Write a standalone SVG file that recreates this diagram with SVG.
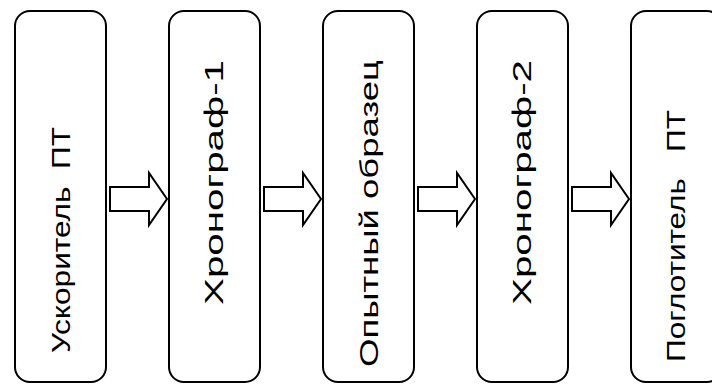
<svg xmlns="http://www.w3.org/2000/svg" width="712" height="386" viewBox="0 0 712 386">
  <defs>
    <style>
      .box { fill: #ffffff; stroke: #000000; stroke-width: 2; }
      .arrow { fill: #ffffff; stroke: #000000; stroke-width: 2; stroke-linejoin: miter; }
      .label { font-family: "Liberation Sans", Arial, sans-serif; font-size: 25px; fill: #000000; white-space: pre; }
    </style>
  </defs>
  <rect width="712" height="386" fill="#ffffff"/>

  <!-- process blocks, rotated labels read bottom to top -->
  <g id="accelerator">
    <rect class="box" x="15" y="11" width="91" height="371" rx="15" ry="15"/>
    <text class="label" transform="translate(70,353) rotate(-90)" textLength="226" lengthAdjust="spacingAndGlyphs" xml:space="preserve">Ускоритель  ПТ</text>
  </g>
  <g id="chronograph-1">
    <rect class="box" x="169" y="11" width="91" height="371" rx="15" ry="15"/>
    <text class="label" transform="translate(223,305) rotate(-90)" textLength="245" lengthAdjust="spacingAndGlyphs">Хронограф-1</text>
  </g>
  <g id="specimen">
    <rect class="box" x="323" y="11" width="91" height="371" rx="15" ry="15"/>
    <text class="label" transform="translate(378,367) rotate(-90)" textLength="307" lengthAdjust="spacingAndGlyphs">Опытный образец</text>
  </g>
  <g id="chronograph-2">
    <rect class="box" x="477" y="11" width="91" height="371" rx="15" ry="15"/>
    <text class="label" transform="translate(531,305) rotate(-90)" textLength="245" lengthAdjust="spacingAndGlyphs">Хронограф-2</text>
  </g>
  <g id="absorber">
    <rect class="box" x="631" y="11" width="91" height="371" rx="15" ry="15"/>
    <text class="label" transform="translate(685,362) rotate(-90)" textLength="252" lengthAdjust="spacingAndGlyphs" xml:space="preserve">Поглотитель   ПТ</text>
  </g>

  <!-- block arrows between stages -->
  <g id="connectors">
    <path class="arrow" d="M110,187 H149 V173 L167,199 L149,225 V211 H110 Z"/>
    <path class="arrow" d="M264,187 H303 V173 L321,199 L303,225 V211 H264 Z"/>
    <path class="arrow" d="M418,187 H457 V173 L475,199 L457,225 V211 H418 Z"/>
    <path class="arrow" d="M572,187 H611 V173 L629,199 L611,225 V211 H572 Z"/>
  </g>
</svg>
